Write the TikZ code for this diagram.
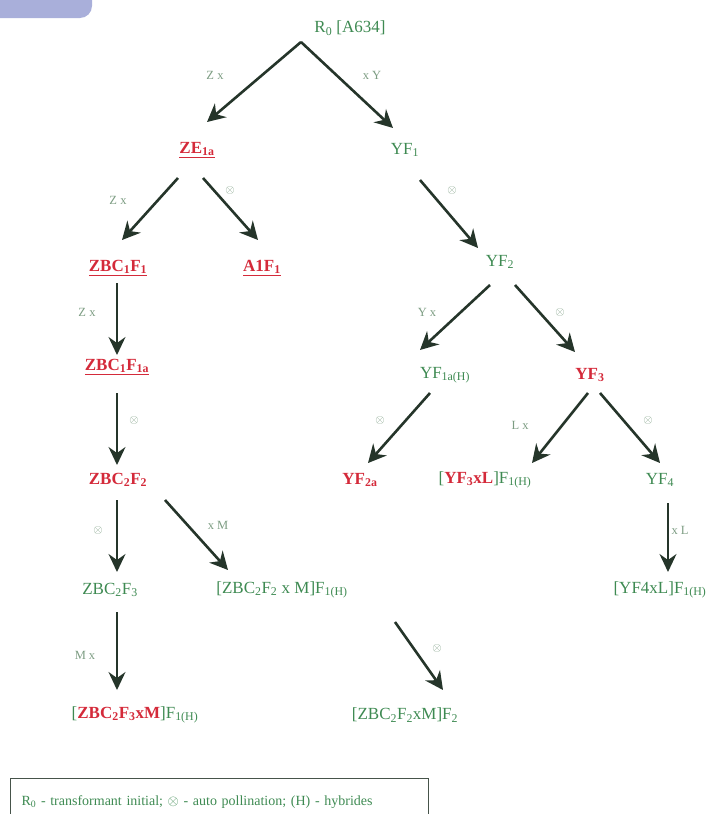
\documentclass[tikz,border=0pt]{standalone}
\usepackage{fontspec}
\setmainfont{Liberation Serif}
\usetikzlibrary{arrows.meta}
\definecolor{gen}{HTML}{3E8A52}
\definecolor{cross}{HTML}{D42A3A}
\definecolor{note}{HTML}{7C9C82}
\definecolor{ink}{HTML}{25352A}
\definecolor{tabfill}{HTML}{A9AFDA}
\newcommand\sbs[1]{\textsubscript{#1}}
\newcommand\selfx{$\otimes$}

\begin{document}
\begin{tikzpicture}[x=1pt,y=-1pt,
  gn/.style={text=gen,font=\fontsize{17}{20}\selectfont,inner sep=1pt},
  rd/.style={text=cross,font=\fontsize{17}{20}\selectfont\bfseries,inner sep=1pt},
  lbl/.style={text=note,font=\fontsize{12.5}{14}\selectfont,inner sep=0pt},
  arr/.style={draw=ink,line width=2.6pt,-{Stealth[length=18pt,width=18pt,inset=6pt]}},
  varr/.style={draw=ink,line width=1.7pt,-{Stealth[length=18pt,width=17pt,inset=6pt]}}]

\useasboundingbox (0,0) rectangle (718,814);

% corner tab
\fill[tabfill,rounded corners=12pt] (-20,-20) rectangle (92,18);

% pedigree nodes
\node[gn] (r0) at (350,28) {R\sbs{0} [A634]};
\coordinate (apex) at (301,42);

\node[rd] (ze) at (197,150) {\underline{ZE\sbs{1a}}};
\node[gn] (yf1) at (405,150) {YF\sbs{1}};

\node[rd] (zbc1) at (118,268) {\underline{ZBC\sbs{1}F\sbs{1}}};
\node[rd] (a1f) at (262,268) {\underline{A1F\sbs{1}}};
\node[gn] (yf2) at (500,262) {YF\sbs{2}};

\node[rd] (zbc1a) at (117,367) {\underline{ZBC\sbs{1}F\sbs{1a}}};
\node[gn] (yf1a) at (445,375) {YF\sbs{1a(H)}};
\node[rd] (yf3) at (590,375) {YF\sbs{3}};

\node[rd] (zbc2) at (118,480) {ZBC\sbs{2}F\sbs{2}};
\node[rd] (yf2a) at (360,480) {YF\sbs{2a}};
\node[gn] (yf3l) at (485,480) {[\textcolor{cross}{\bfseries YF\sbs{3}xL}]F\sbs{1(H)}};
\node[gn] (yf4) at (660,480) {YF\sbs{4}};

\node[gn] (zbc23) at (110,590) {ZBC\sbs{2}F\sbs{3}};
\node[gn] (zbcm) at (282,590) {[ZBC\sbs{2}F\sbs{2} x M]F\sbs{1(H)}};
\node[gn] (yf4l) at (660,590) {[YF4xL]F\sbs{1(H)}};

\node[gn] (zbcm3) at (135,715) {[\textcolor{cross}{\bfseries ZBC\sbs{2}F\sbs{3}xM}]F\sbs{1(H)}};
\node[gn] (zbcm2) at (405,715) {[ZBC\sbs{2}F\sbs{2}xM]F\sbs{2}};

% crosses and selfings
\draw[arr] (apex) -- ([shift={(10,-28)}]ze.center);
\draw[arr] (apex) -- ([shift={(-12,-22)}]yf1.center);
\draw[arr] ([shift={(-19,28)}]ze.center) -- ([shift={(4,-28)}]zbc1.center);
\draw[arr] ([shift={(6,28)}]ze.center) -- ([shift={(-4,-28)}]a1f.center);
\draw[arr] ([shift={(15,30)}]yf1.center) -- ([shift={(-22,-14)}]yf2.center);
\draw[varr] ([shift={(-1,15)}]zbc1.center) -- ([shift={(0,-12)}]zbc1a.center);
\draw[arr] ([shift={(-10,23)}]yf2.center) -- ([shift={(-25,-25)}]yf1a.center);
\draw[arr] ([shift={(15,23)}]yf2.center) -- ([shift={(-15,-23)}]yf3.center);
\draw[varr] ([shift={(0,26)}]zbc1a.center) -- ([shift={(-1,-15)}]zbc2.center);
\draw[arr] ([shift={(-15,18)}]yf1a.center) -- ([shift={(8,-17)}]yf2a.center);
\draw[arr] ([shift={(-2,18)}]yf3.center) -- ([shift={(47,-17)}]yf3l.center);
\draw[arr] ([shift={(10,18)}]yf3.center) -- ([shift={(0,-17)}]yf4.center);
\draw[varr] ([shift={(-1,20)}]zbc2.center) -- ([shift={(7,-18)}]zbc23.center);
\draw[arr] ([shift={(47,20)}]zbc2.center) -- ([shift={(-54,-20)}]zbcm.center);
\draw[varr] ([shift={(8,23)}]yf4.center) -- ([shift={(8,-18)}]yf4l.center);
\draw[varr] ([shift={(7,22)}]zbc23.center) -- ([shift={(-18,-25)}]zbcm3.center);
\draw[arr] ([shift={(113,32)}]zbcm.center) -- ([shift={(38,-25)}]zbcm2.center);

% edge labels
\node[lbl] (l1) at (215,75) {Z x};
\node[lbl] (l2) at (372,75) {x Y};
\node[lbl] (l3) at (118,200) {Z x};
\node[lbl] (l4) at (230,190) {\selfx};
\node[lbl] (l5) at (452,190) {\selfx};
\node[lbl] (l6) at (87,312) {Z x};
\node[lbl] (l7) at (427,312) {Y x};
\node[lbl] (l8) at (560,312) {\selfx};
\node[lbl] (l9) at (134,420) {\selfx};
\node[lbl] (l10) at (380,420) {\selfx};
\node[lbl] (l11) at (520,425) {L x};
\node[lbl] (l12) at (648,420) {\selfx};
\node[lbl] (l13) at (98,530) {\selfx};
\node[lbl] (l14) at (218,525) {x M};
\node[lbl] (l15) at (680,530) {x L};
\node[lbl] (l16) at (85,655) {M x};
\node[lbl] (l17) at (437,648) {\selfx};

% legend
\node[draw=ink!85,line width=1.2pt,anchor=north west,minimum width=418pt,
      minimum height=46pt,text=gen,font=\fontsize{14}{16}\selectfont,
      inner xsep=11pt,inner ysep=6pt,text width=396pt,align=left]
  (legend) at (10,778)
  {R\sbs{0} - transformant initial; $\otimes$ - auto pollination; (H) - hybrides\\[-8pt]};
\end{tikzpicture}
\end{document}
